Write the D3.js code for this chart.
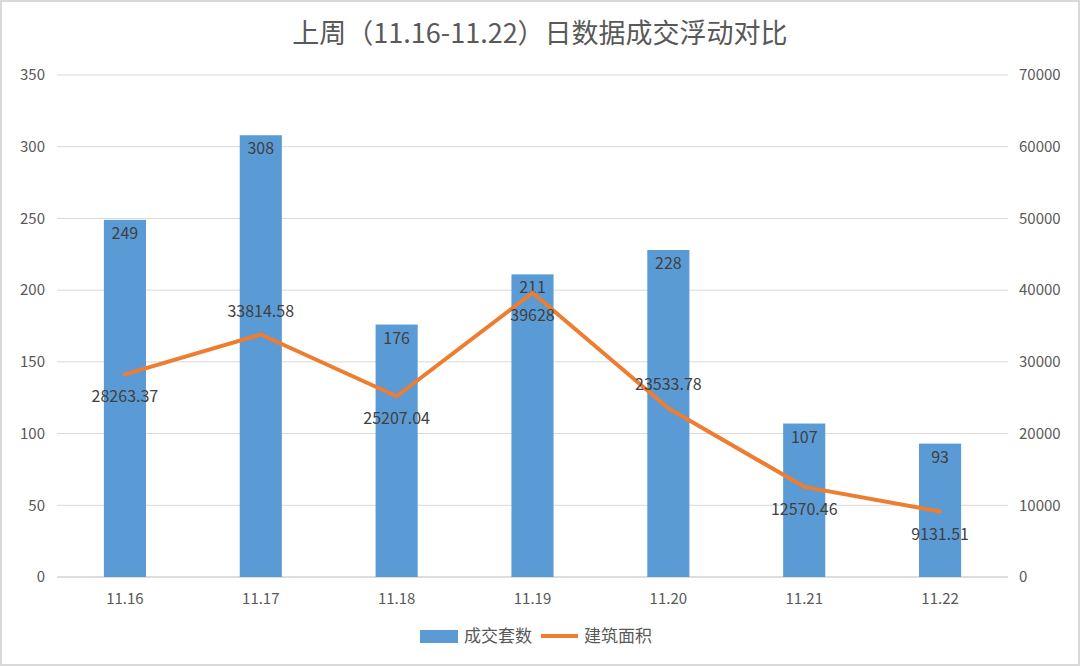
<!DOCTYPE html>
<html><head><meta charset="utf-8">
<script src="https://cdn.jsdelivr.net/npm/d3@7"></script>
<style>
html,body{margin:0;padding:0;background:#fff;}
svg{display:block;}
text{font-family:"Noto Sans CJK SC","Noto Sans",sans-serif;}
</style></head>
<body>
<svg id="c" width="1080" height="666"></svg>
<script>
const categories = ["11.16","11.17","11.18","11.19","11.20","11.21","11.22"];
const deals = [249,308,176,211,228,107,93];
const area = [28263.37,33814.58,25207.04,39628,23533.78,12570.46,9131.51];
const areaLabels = ["28263.37","33814.58","25207.04","39628","23533.78","12570.46","9131.51"];
const areaLabelSide = ["below","above","below","below","above","below","below"];
const leftTicks = [0,50,100,150,200,250,300,350];
const rightTicks = [0,10000,20000,30000,40000,50000,60000,70000];
const seriesNames = ["成交套数","建筑面积"];
const title = "上周（11.16-11.22）日数据成交浮动对比";

(function(){
const svg = d3.select("#c");
const W = 1080, H = 666;
const pL = 57, pR = 1008, pT = 75, pB = 577;

svg.append("rect").attr("x",1).attr("y",1).attr("width",W-2).attr("height",H-2)
  .attr("fill","#fff").attr("stroke","#d9d9d9").attr("stroke-width",2);

const x = d3.scaleBand().domain(categories).range([pL,pR]).paddingInner(0.69).paddingOuter(0.345);
const yL = d3.scaleLinear().domain([0,350]).range([pB,pT]);
const yR = d3.scaleLinear().domain([0,70000]).range([pB,pT]);

svg.append("g").selectAll("line").data(leftTicks).join("line")
  .attr("x1",pL).attr("x2",pR)
  .attr("y1",d=>yL(d)).attr("y2",d=>yL(d))
  .attr("stroke","#d9d9d9").attr("stroke-width",1);

const gl = svg.append("g").attr("transform",`translate(${pL-12},0)`)
  .call(d3.axisLeft(yL).tickValues(leftTicks).tickSize(0).tickPadding(0));
gl.select(".domain").remove();
gl.selectAll("text").attr("fill","#595959").style("font-size","15px");

const gr = svg.append("g").attr("transform",`translate(${pR+11},0)`)
  .call(d3.axisRight(yR).tickValues(rightTicks).tickFormat(d3.format("d")).tickSize(0).tickPadding(0));
gr.select(".domain").remove();
gr.selectAll("text").attr("fill","#595959").style("font-size","15px");

svg.append("line").attr("x1",pL).attr("x2",pR).attr("y1",pB).attr("y2",pB)
  .attr("stroke","#d9d9d9").attr("stroke-width",1.5);
const gb = svg.append("g").attr("transform",`translate(0,${pB})`)
  .call(d3.axisBottom(x).tickSize(0).tickPadding(16));
gb.select(".domain").remove();
gb.selectAll("text").attr("fill","#595959").style("font-size","15px");

svg.append("g").selectAll("rect").data(deals).join("rect")
  .attr("x",(d,i)=>x(categories[i])).attr("width",x.bandwidth())
  .attr("y",d=>yL(d)).attr("height",d=>pB-yL(d))
  .attr("fill","#5b9bd5");

svg.append("g").selectAll("text").data(deals).join("text")
  .attr("x",(d,i)=>x(categories[i])+x.bandwidth()/2)
  .attr("y",d=>yL(d)+19)
  .attr("text-anchor","middle").attr("fill","#404040")
  .style("font-size","16px").text(d=>d);

const cx = i => x(categories[i])+x.bandwidth()/2;
svg.append("path").datum(area)
  .attr("d",d3.line().x((d,i)=>cx(i)).y(d=>yR(d)))
  .attr("fill","none").attr("stroke","#ed7d31").attr("stroke-width",4)
  .attr("stroke-linejoin","round").attr("stroke-linecap","round");

svg.append("g").selectAll("text").data(area).join("text")
  .attr("x",(d,i)=>cx(i))
  .attr("y",(d,i)=>areaLabelSide[i]==="above" ? yR(d)-18 : yR(d)+28)
  .attr("text-anchor","middle").attr("fill","#404040")
  .style("font-size","16px").text((d,i)=>areaLabels[i]);

svg.append("text").attr("x",540).attr("y",43).attr("text-anchor","middle")
  .attr("fill","#595959").style("font-size","27px").text(title);

const lg = svg.append("g");
lg.append("rect").attr("x",420).attr("y",630).attr("width",38).attr("height",13).attr("fill","#5b9bd5");
lg.append("text").attr("x",464).attr("y",642).attr("fill","#595959").style("font-size","17px").text(seriesNames[0]);
lg.append("line").attr("x1",541).attr("x2",578).attr("y1",636).attr("y2",636)
  .attr("stroke","#ed7d31").attr("stroke-width",4);
lg.append("text").attr("x",584).attr("y",642).attr("fill","#595959").style("font-size","17px").text(seriesNames[1]);
})();
</script>
</body></html>
